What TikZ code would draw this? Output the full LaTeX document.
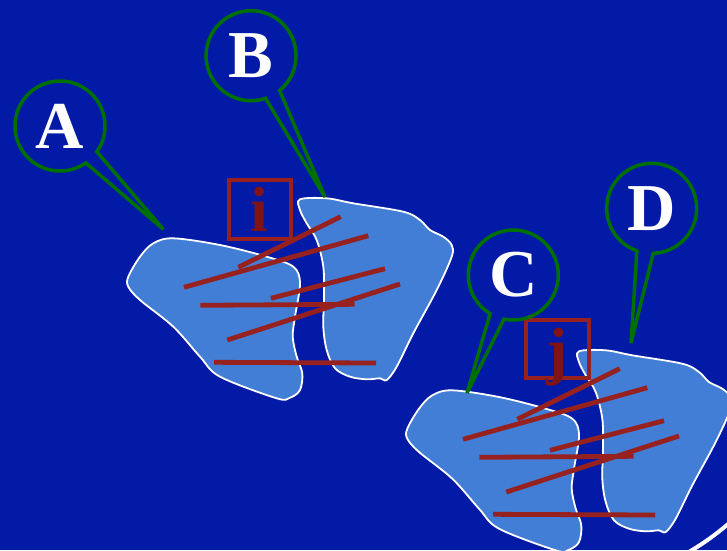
\documentclass[tikz,border=0pt]{standalone}
\usepackage{fontspec}
\setmainfont{Liberation Serif}
\definecolor{bgblue}{RGB}{2,26,166}
\definecolor{lungblue}{RGB}{66,126,214}
\definecolor{barred}{RGB}{150,33,30}
\definecolor{letred}{RGB}{128,20,20}
\definecolor{callgreen}{RGB}{0,112,0}
\tikzset{
 lung/.style={fill=lungblue, draw=white, line width=1.8pt},
 bar/.style={draw=barred, line width=4.8pt},
 callout/.style={draw=callgreen, line width=3.5pt, line join=miter},
 callletter/.style={circle, minimum size=90pt, inner sep=0pt, outer sep=0pt, text=white, font=\bfseries\fontsize{67}{67}\selectfont},
 markbox/.style={draw=barred, line width=4pt, minimum width=62.6pt, minimum height=58.4pt, inner sep=0pt, outer sep=0pt},
 markletter/.style={anchor=base, text=letred, font=\bfseries\fontsize{64}{64}\selectfont, inner sep=0pt},
}
\newcommand\twolungs{%
 \draw[lung] plot[smooth cycle, tension=0.55] coordinates {
 (173.3,238.3) (220,245) (266.7,256.7) (293.3,266.7) (300,283.3) (295,316.7)
 (292.7,336.7) (296.7,356.7) (302.3,373.3) (300,390) (290,397.7) (276.7,398.3)
 (220,376.7) (200,356.7) (173.3,326.7) (140,300) (128.3,286.7) (128.3,276.7)
 (140,256.7) (153.3,243.3)};
 \draw[lung] plot[smooth cycle, tension=0.55] coordinates {
 (300,199.3) (326.7,198.3) (353.3,203.3) (403.3,211.7) (420,220) (430,230)
 (443.3,236.7) (451.7,245) (451.7,256.7) (436.7,290) (413.3,333.3) (396.7,366.7)
 (386.7,380) (380,378.3) (366.7,379.3) (350,376.7) (335,368.3) (326.7,350)
 (323.3,326.7) (324,296.7) (323.3,266.7) (316.7,240) (306.7,223.3) (300,210)};
 \draw[bar] (238.3,267.3) -- (340.7,216.7);
 \draw[bar] (184,287.3) -- (368.3,235.7);
 \draw[bar] (271,298.3) -- (385,268.7);
 \draw[bar] (200.3,305.3) -- (354.7,304.3);
 \draw[bar] (227.3,340) -- (400,284);
 \draw[bar] (214,362.3) -- (376,363);
}
\begin{document}
\begin{tikzpicture}[x=1pt, y=-1pt]
\useasboundingbox (0,0) rectangle (727,550);
\fill[bgblue] (0,0) rectangle (727,550);
\begin{scope}
\clip (0,0) rectangle (727,550);
\twolungs
\begin{scope}[shift={(279,152)}]
\twolungs
\end{scope}
\draw[white, line width=4pt] (680,557) .. controls (700,546) and (716,535) .. (735,518);
\end{scope}
% marker boxes
\node[markbox] (ibox) at (260,209.5) {};
\node[markletter] (itext) at (259,231.7) {i};
\node[markbox] (jbox) at (557.5,349.2) {};
\node[markletter] (jtext) at (557,372) {j};
% callouts
\node[callletter] (A) at (60,126) {A};
\node[callletter] (B) at (250.7,56) {B};
\node[callletter] (C) at (513.3,275) {C};
\node[callletter] (D) at (651.7,208.3) {D};
\coordinate (tA) at (163.3,229.3);
\coordinate (tB) at (325,197);
\coordinate (tC) at (467,393);
\coordinate (tD) at (631,343);
\draw[callout] (A.-35) arc[start angle=-35, end angle=305, radius=45pt] -- (tA) -- cycle;
\draw[callout] (B.-50.6) arc[start angle=-50.6, end angle=288.8, radius=45pt] -- (tB) -- cycle;
\draw[callout] (C.-102) arc[start angle=-102, end angle=239, radius=45pt] -- (tC) -- cycle;
\draw[callout] (D.-88) arc[start angle=-88, end angle=250.8, radius=45pt] -- (tD) -- cycle;
\end{tikzpicture}
\end{document}
